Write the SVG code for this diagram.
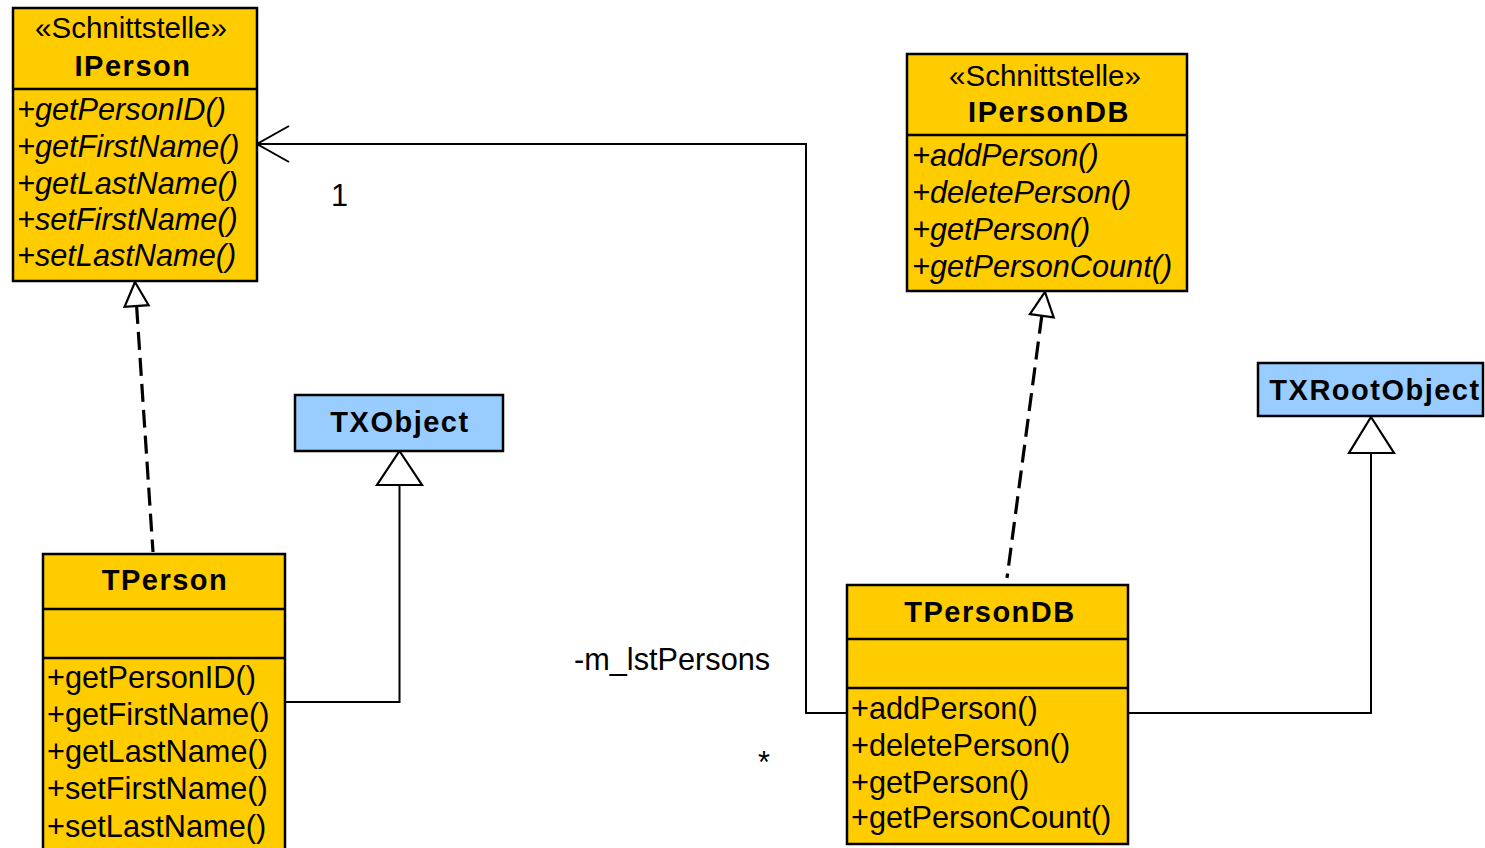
<svg xmlns="http://www.w3.org/2000/svg" width="1485" height="848" viewBox="0 0 1485 848">
<style>
.box{fill:#FFCC00;stroke:#000;stroke-width:2.5}
.blue{fill:#99CCFF;stroke:#000;stroke-width:2.5}
.div{stroke:#000;stroke-width:2.5}
.t{font-family:"Liberation Sans",Arial,sans-serif;font-size:30.7px;fill:#000}
.it{font-style:italic}
.st{font-family:"Liberation Sans",Arial,sans-serif;font-size:29.5px;fill:#000;text-anchor:middle}
.nm{font-family:"Liberation Sans",Arial,sans-serif;font-size:29px;font-weight:bold;letter-spacing:1.5px;fill:#000;text-anchor:middle}
.ln{fill:none;stroke:#000;stroke-width:2}
.dash{fill:none;stroke:#000;stroke-width:3.2;stroke-dasharray:18 8}
.tri{fill:#fff;stroke:#000;stroke-width:2.2}
</style>
<rect width="1485" height="848" fill="#fff"/>
<g id="connectors">
  <line class="dash" x1="136.6" y1="306" x2="153" y2="552"/>
  <polygon class="tri" points="135,282 148.6,305.2 124.6,306.8"/>
  <line class="dash" x1="1041.8" y1="315.8" x2="1007" y2="578"/>
  <polygon class="tri" points="1045,292 1053.7,317.4 1029.9,314.2"/>
  <polyline class="ln" points="285,702 399.5,702 399.5,485"/>
  <polygon class="tri" points="399.5,451 422,485 377,485"/>
  <polyline class="ln" points="1128,713 1371,713 1371,453"/>
  <polygon class="tri" points="1371,417 1394,453 1349,453"/>
  <polyline class="ln" points="847,713 806,713 806,144 257,144"/>
  <polyline class="ln" points="289,126 257,144 289,162"/>
  <text class="t" x="331" y="206">1</text>
  <text class="t" x="574" y="670">-m_lstPersons</text>
  <text class="t" x="758" y="773">*</text>
</g>
<g id="IPerson">
  <rect class="box" x="13" y="8" width="244" height="273"/>
  <line class="div" x1="13" y1="89" x2="257" y2="89"/>
  <text class="st" x="131" y="38">«Schnittstelle»</text>
  <text class="nm" x="133" y="76">IPerson</text>
  <text class="t it" x="17" y="120">+getPersonID()</text>
  <text class="t it" x="17" y="157">+getFirstName()</text>
  <text class="t it" x="17" y="194">+getLastName()</text>
  <text class="t it" x="17" y="230">+setFirstName()</text>
  <text class="t it" x="17" y="266">+setLastName()</text>
</g>
<g id="IPersonDB">
  <rect class="box" x="907" y="54" width="280" height="237"/>
  <line class="div" x1="907" y1="135" x2="1187" y2="135"/>
  <text class="st" x="1045" y="86">«Schnittstelle»</text>
  <text class="nm" x="1049" y="122">IPersonDB</text>
  <text class="t it" x="912" y="166">+addPerson()</text>
  <text class="t it" x="912" y="203">+deletePerson()</text>
  <text class="t it" x="912" y="240">+getPerson()</text>
  <text class="t it" x="912" y="277">+getPersonCount()</text>
</g>
<g id="TXObject">
  <rect class="blue" x="295" y="395" width="208" height="56"/>
  <text class="nm" x="400" y="432">TXObject</text>
</g>
<g id="TXRootObject">
  <rect class="blue" x="1258" y="363" width="225" height="53"/>
  <text class="nm" x="1375" y="400">TXRootObject</text>
</g>
<g id="TPerson">
  <rect class="box" x="43" y="554" width="242" height="300"/>
  <line class="div" x1="43" y1="609" x2="285" y2="609"/>
  <line class="div" x1="43" y1="658" x2="285" y2="658"/>
  <text class="nm" x="165" y="590">TPerson</text>
  <text class="t" x="47" y="688">+getPersonID()</text>
  <text class="t" x="47" y="725">+getFirstName()</text>
  <text class="t" x="47" y="762">+getLastName()</text>
  <text class="t" x="47" y="799">+setFirstName()</text>
  <text class="t" x="47" y="837">+setLastName()</text>
</g>
<g id="TPersonDB">
  <rect class="box" x="847" y="585" width="281" height="259"/>
  <line class="div" x1="847" y1="639" x2="1128" y2="639"/>
  <line class="div" x1="847" y1="688" x2="1128" y2="688"/>
  <text class="nm" x="990" y="622">TPersonDB</text>
  <text class="t" x="851" y="719">+addPerson()</text>
  <text class="t" x="851" y="756">+deletePerson()</text>
  <text class="t" x="851" y="793">+getPerson()</text>
  <text class="t" x="851" y="828">+getPersonCount()</text>
</g>
</svg>
